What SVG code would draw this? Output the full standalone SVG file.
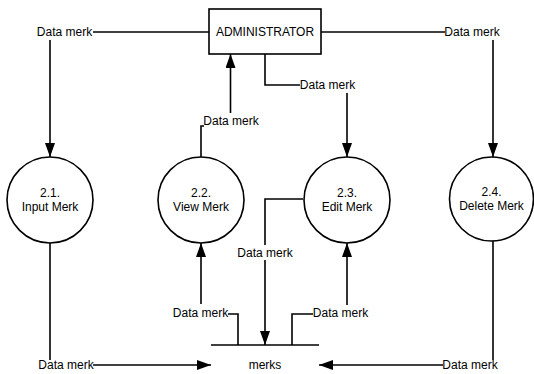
<svg xmlns="http://www.w3.org/2000/svg" width="534" height="374" viewBox="0 0 534 374">
<style>
text{font-family:"Liberation Sans",Arial,sans-serif;font-size:12px;fill:#000;text-anchor:middle}
.ln{fill:none;stroke:#000;stroke-width:1.6}
.proc{fill:#fff;stroke:#000;stroke-width:1.6}
</style>
<defs>
<marker id="ah" viewBox="0 0 14 10" refX="14" refY="5" markerWidth="14" markerHeight="10" markerUnits="userSpaceOnUse" orient="auto">
<path d="M0,0 L14,5 L0,10 Z" fill="#000"/>
</marker>
</defs>
<rect width="534" height="374" fill="#fff"/>
<g id="connectors">
<path class="ln" d="M209 32 H93"/>
<path class="ln" d="M50 40 V157" marker-end="url(#ah)"/>
<text x="64.5" y="36">Data merk</text>
<path class="ln" d="M321 32 H445"/>
<path class="ln" d="M493 40 V157" marker-end="url(#ah)"/>
<text x="472" y="36">Data merk</text>
<path class="ln" d="M265 54 V85 H300"/>
<path class="ln" d="M347 93 V157" marker-end="url(#ah)"/>
<text x="327.5" y="89">Data merk</text>
<path class="ln" d="M201 157 V126 H204"/>
<path class="ln" d="M230.5 113 V54" marker-end="url(#ah)"/>
<text x="231" y="125">Data merk</text>
<path class="ln" d="M303 199 H265 V345" marker-end="url(#ah)"/>
<rect x="236" y="245" width="58" height="15" fill="#fff"/>
<text x="265" y="257">Data merk</text>
<path class="ln" d="M201 304 V243" marker-end="url(#ah)"/>
<path class="ln" d="M228 314 H238 V345"/>
<text x="200.5" y="317">Data merk</text>
<path class="ln" d="M347 305 V243" marker-end="url(#ah)"/>
<path class="ln" d="M313 314 H292 V345"/>
<text x="340.5" y="317">Data merk</text>
<path class="ln" d="M50 243 V360"/>
<path class="ln" d="M93 365 H211" marker-end="url(#ah)"/>
<text x="66" y="369">Data merk</text>
<path class="ln" d="M493 241 V360"/>
<path class="ln" d="M443 365 H319" marker-end="url(#ah)"/>
<text x="470" y="369">Data merk</text>
</g>
<g id="administrator">
<rect x="209" y="9" width="112" height="45" class="proc"/>
<text x="265" y="36">ADMINISTRATOR</text>
</g>
<g id="p21">
<circle cx="50" cy="200" r="43" class="proc"/>
<text x="50" y="197">2.1.</text>
<text x="50" y="210.5">Input Merk</text>
</g>
<g id="p22">
<circle cx="201" cy="200" r="43" class="proc"/>
<text x="201" y="197">2.2.</text>
<text x="201" y="210.5">View Merk</text>
</g>
<g id="p23">
<circle cx="347" cy="200" r="43" class="proc"/>
<text x="347" y="197">2.3.</text>
<text x="347" y="210.5">Edit Merk</text>
</g>
<g id="p24">
<circle cx="491.5" cy="199" r="42" class="proc"/>
<text x="491.5" y="196">2.4.</text>
<text x="491.5" y="209.5">Delete Merk</text>
</g>
<g id="merks">
<path class="ln" d="M211 345 H319"/>
<text x="265" y="369">merks</text>
</g>
</svg>
